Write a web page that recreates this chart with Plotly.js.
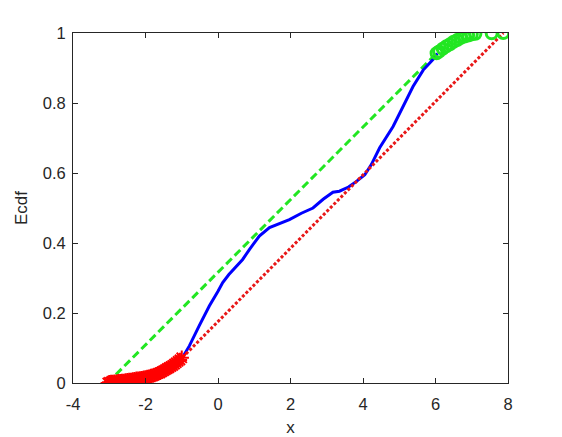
<!DOCTYPE html>
<html>
<head>
<meta charset="utf-8">
<script src="https://cdn.plot.ly/plotly-3.0.1.min.js"></script>
<style>
  html, body { margin: 0; padding: 0; background: #fff; }
  #chart { width: 562px; height: 437px; }
</style>
</head>
<body>
<div id="chart"></div>
<script>
// empirical cdf (blue)
const ecdfX = [-0.98, -0.79, -0.52, -0.24, 0.0, 0.13, 0.3, 0.68, 0.87, 1.14, 1.42, 1.7, 1.97, 2.3, 2.62, 2.9, 3.17, 3.35, 3.6, 3.82, 4.05, 4.23, 4.46, 4.83, 5.1, 5.38, 5.66, 5.98, 6.05];
const ecdfY = [0.073, 0.106, 0.163, 0.22, 0.262, 0.287, 0.31, 0.353, 0.382, 0.42, 0.444, 0.455, 0.467, 0.485, 0.5, 0.525, 0.545, 0.548, 0.56, 0.576, 0.595, 0.624, 0.672, 0.733, 0.79, 0.847, 0.894, 0.93, 0.942];

// lower tail points (red stars)
const lowX = [-3.04, -3.0, -2.95, -2.9, -2.85, -2.8, -2.75, -2.7, -2.65, -2.6, -2.55, -2.5, -2.45, -2.4, -2.35, -2.3, -2.25, -2.2, -2.15, -2.1, -2.05, -2.0, -1.95, -1.9, -1.85, -1.8, -1.75, -1.7, -1.65, -1.6, -1.55, -1.5, -1.45, -1.4, -1.35, -1.3, -1.25, -1.2, -1.15, -1.1, -1.05, -1.0];
const lowY = [0, 0.002, 0.003, 0.003, 0.004, 0.004, 0.005, 0.005, 0.006, 0.006, 0.007, 0.008, 0.009, 0.009, 0.01, 0.011, 0.012, 0.012, 0.013, 0.014, 0.015, 0.016, 0.017, 0.018, 0.02, 0.021, 0.023, 0.025, 0.027, 0.029, 0.032, 0.035, 0.038, 0.041, 0.044, 0.047, 0.05, 0.054, 0.058, 0.062, 0.066, 0.072];

// upper tail points (green circles)
const highX = [6.03, 6.1, 6.2, 6.3, 6.4, 6.5, 6.6, 6.7, 6.8, 6.9, 7.0, 7.1, 7.55, 7.87];
const highY = [0.942, 0.947, 0.955, 0.962, 0.968, 0.975, 0.98, 0.986, 0.99, 0.993, 0.996, 0.998, 0.999, 1.0];

// straight bounds
const upperLineX = [-3.05, 6.03];
const upperLineY = [0, 0.942];
const lowerLineX = [-0.98, 7.87];
const lowerLineY = [0.073, 1.0];

const xTicks = [-4, -2, 0, 2, 4, 6, 8];
const xTickText = ['-4', '-2', '0', '2', '4', '6', '8'];
const yTicks = [0, 0.2, 0.4, 0.6, 0.8, 1];
const yTickText = ['0', '0.2', '0.4', '0.6', '0.8', '1'];

const font = 'Liberation Sans, Arial, sans-serif';

const data = [
  {
    x: upperLineX, y: upperLineY, mode: 'lines',
    line: { color: '#22e622', width: 3, dash: '8px,4px' },
  },
  {
    x: ecdfX, y: ecdfY, mode: 'lines',
    line: { color: '#0000ff', width: 3 },
  },
  {
    x: lowerLineX, y: lowerLineY, mode: 'lines',
    line: { color: '#e81818', width: 3, dash: '3px,2px' },
  },
  {
    x: lowX, y: lowY, mode: 'markers',
    marker: { symbol: 'asterisk-open', size: 12, color: '#ff0000', line: { color: '#ff0000', width: 2 } },
  },
  {
    x: highX, y: highY, mode: 'markers',
    marker: { symbol: 'circle-open', size: 11, color: '#22e622', line: { color: '#22e622', width: 3 } },
  },
];

const axisBase = {
  showgrid: false,
  zeroline: false,
  showline: true,
  linecolor: '#262626',
  linewidth: 1,
  mirror: 'ticks',
  ticks: 'inside',
  ticklen: 5,
  tickcolor: '#262626',
  tickfont: { family: font, size: 16.5, color: '#262626' },
};

const layout = {
  width: 562,
  height: 437,
  margin: { l: 73, r: 54, t: 33, b: 54 },
  paper_bgcolor: '#ffffff',
  plot_bgcolor: '#ffffff',
  showlegend: false,
  xaxis: Object.assign({}, axisBase, {
    range: [-4, 8],
    tickvals: xTicks,
    ticktext: xTickText,
    ticklabelstandoff: 6,
    title: { text: 'x', font: { family: font, size: 17, color: '#262626' }, standoff: 10 },
  }),
  yaxis: Object.assign({}, axisBase, {
    range: [0, 1],
    tickvals: yTicks,
    ticktext: yTickText,
    ticklabelstandoff: 3,
    title: { text: 'Ecdf', font: { family: font, size: 17, color: '#262626' }, standoff: 10 },
  }),
};

Plotly.newPlot('chart', data, layout, { displayModeBar: false, responsive: false });
</script>
</body>
</html>
